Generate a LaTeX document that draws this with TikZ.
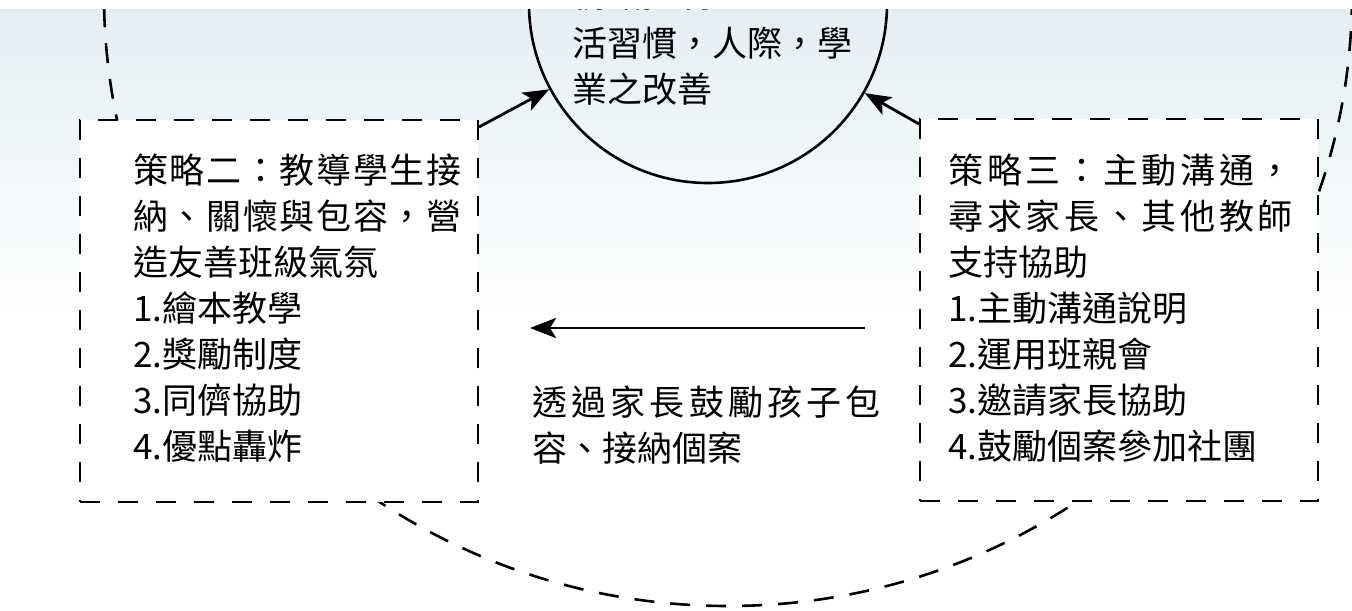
\documentclass[tikz,border=0pt]{standalone}
\usepackage{fontspec}
\setmainfont{Noto Sans CJK TC}
\newfontfamily\headA[LetterSpace=4.6]{Noto Sans CJK TC}
\newfontfamily\headB[LetterSpace=10.5]{Noto Sans CJK TC}
\newfontfamily\headC[LetterSpace=12]{Noto Sans CJK TC}
\usepackage{xcolor}
\usepackage{tikz}
\usetikzlibrary{positioning, arrows.meta}
\definecolor{bgblue}{HTML}{E4EFF3}

\begin{document}
\begin{tikzpicture}[x=0.5pt, y=-0.5pt, every node/.style={font=\fontsize{17.5pt}{23pt}\selectfont}]
  \tikzstyle{dbox} = [rectangle, draw=black, line width=1pt, dash pattern=on 10pt off 9pt, fill=white, minimum width=199pt, minimum height=191pt]
  \tikzstyle{goalcircle} = [circle, draw=black, line width=1.3pt, minimum size=179pt]
  \tikzstyle{txt} = [anchor=north west, align=left, inner sep=0pt]
  \tikzstyle{arrow} = [line width=1.4pt, -{Stealth[length=13pt, width=10pt, inset=3pt]}]

  \useasboundingbox (0,0) rectangle (1352,610);
  \fill[white] (0,0) rectangle (1352,610);
  \begin{scope}
    \clip (0,10) rectangle (1352,610);
    \shade[top color=bgblue, bottom color=white] (0,10) rectangle (1352,320);
    \draw[line width=1.3pt, dash pattern=on 10pt off 8pt] (728,-5) ellipse [x radius=624, y radius=611];

    \node (goal) [goalcircle] at (708,4) {};
    \node (goaltext) [txt] at (572,-22) {情緒控制，生\\[1.5pt]活習慣，人際，學\\業之改善};

    \node (lbox) [dbox] at (279,311) {};
    \node (rbox) [dbox] at (1119,310) {};
    \node (ltext) [txt] at (133,153) {{\headA 策略二：教導學生接}\\{\headA 納、關懷與包容，營}\\造友善班級氣氛\\1.繪本教學\\2.獎勵制度\\3.同儕協助\\4.優點轟炸};
    \node (rtext) [txt] at (948,153) {{\headB 策略三：主動溝通，}\\{\headB 尋求家長、其他教師}\\支持協助\\1.主動溝通說明\\2.運用班親會\\3.邀請家長協助\\4.鼓勵個案參加社團};
    \node (mtext) [txt] at (532,385) {{\headC 透過家長鼓勵孩子包}\\容、接納個案};

    \coordinate (from) at (865,328);
    \coordinate (to) at (530,328);

    \draw [arrow] ([yshift=-4pt]lbox.north east) -- (goal);
    \draw [arrow] ([yshift=-3pt]rbox.north west) -- (goal);
    \draw [arrow] (from) -- (to);
  \end{scope}
\end{tikzpicture}
\end{document}
